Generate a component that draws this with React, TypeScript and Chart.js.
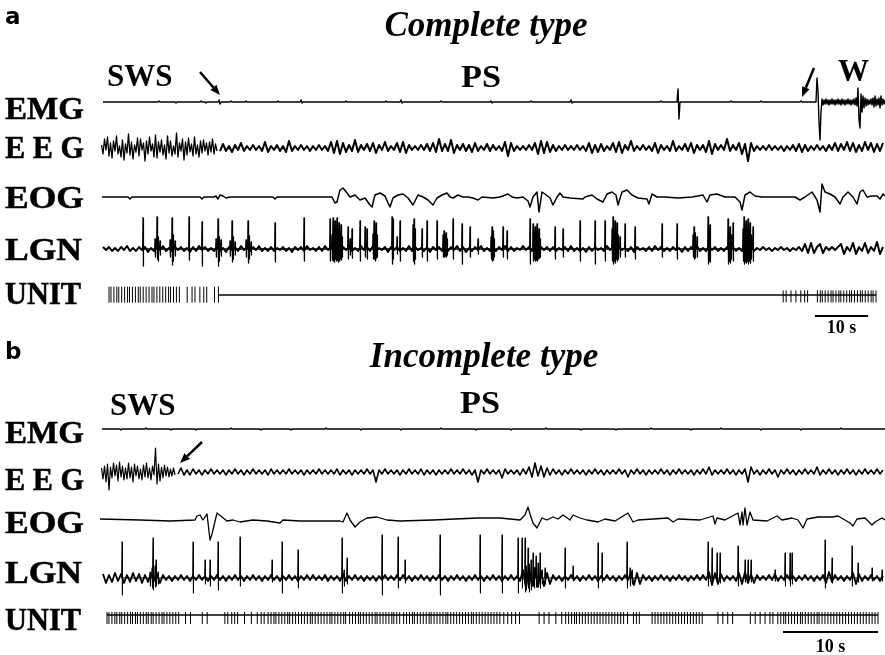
import React, { useEffect, useRef } from "react";
import { Chart, registerables } from "chart.js";

Chart.register(...registerables);

type P = { x: number; y: number };

// ---------- time base (x = sample units along the record) ----------
const X_MAX = 785;
const A_UNITS_PER_SEC = 5.3;
const B_UNITS_PER_SEC = 9.5;
const SCALEBAR_SEC = 10;
const SCALEBAR_A_START = 715;
const SCALEBAR_B_START = 683;

// ---------- panel a : complete type ----------
const EMG_A: [number, number][] = [
  [3, 0], [58, 0], [59, 1], [60, 0], [75, 0], [76, -1], [77, 0], [100, 0], [101, 1], [102, 0], [105, 0], [106, -1], [107, 0],
  [118, 0], [119, 2], [120, -2], [121, 0], [130, 0], [131, 1], [132, 0], [145, 0], [146, 1], [147, 0], [177, 0], [178, 1], [179, 0],
  [200, 0], [201, 2], [202, -1], [203, 0], [245, 0], [246, 1], [247, 0], [285, 0], [286, 1], [287, 0], [300, 0], [301, 2], [302, -1], [303, 0],
  [340, 0], [341, 1], [342, 0], [390, 0], [391, 1], [392, -1], [393, 0], [430, 0], [431, 1], [432, 0], [470, 0], [471, 2], [472, -1], [473, 0],
  [560, 0], [561, 1], [562, 0], [577, 0], [578, 13], [579, -17], [580, 0], [630, 0], [631, 1], [632, 0], [660, 0], [661, 1], [662, 0],
  [700, 0], [701, 1], [702, 0], [716, 0], [717, 24], [718, 10], [719, -20], [720, -38], [721, -10], [722, 3], [723, -3], [724, 2],
  [725, -2], [726, 3], [727, -2], [728, 2], [729, -3], [730, 2], [731, -2], [732, 3], [733, -2], [734, 2], [735, -3], [736, 2], [737, -2],
  [738, 3], [739, -2], [740, 2], [741, -3], [742, 3], [743, -2], [744, 2], [745, -3], [746, 2], [747, -2], [748, 3], [749, -2], [750, 2],
  [751, -3], [752, 2], [753, -2], [754, 3], [755, -3], [756, 4], [757, -4], [758, 14], [759, -18], [760, -26], [761, 8], [762, -10],
  [763, 6], [764, -6], [765, 4], [766, -4], [767, 3], [768, -3], [769, 2], [770, -2], [771, 3], [772, -3], [773, 4], [774, -5], [775, 6],
  [776, -4], [777, 3], [778, -3], [779, 4], [780, -6], [781, 6], [782, -3], [783, 3], [784, -2], [785, 2],
];

// EEG, slow-wave-sleep stretch sampled every 1.5 units from x = 1.5
const EEG_A_SWS: number[] = [
  3, -6, 9, -2, 11, -8, 5, -10, 7, -3, 12, -6, 2, -9, 8, -12, 4, -5, 14, -7,
  6, -11, 3, -4, 10, -8, 9, -2, 5, -13, 7, -6, 11, -3, 4, -9, 13, -10, 6, -4,
  8, -7, 3, -11, 12, -5, 7, -8, 2, -6, 15, -9, 5, -3, 9, -12, 6, -7, 10, -4,
  4, -8, 11, -6, 3, -9, 7, -5, 8, -3, 5, -7, 6, -4, 9, -6, 4, -3,
];
// EEG, paradoxical-sleep stretch sampled every 3 units from x = 120
const EEG_A_PS: number[] = [
  -3,
  4, -3, 2, -4, 3, -2, 5, -3, 2, -2,
  3, -2, 2, -3, 6, -4, 2, -2, 3, -3,
  2, -4, 7, -3, 2, -2, 3, -2, 2, -3,
  2, -2, 3, -2, 2, -3, 6, -5, 7, -6,
  5, -4, 3, -3, 8, -4, 3, -2, 4, -3,
  5, -5, 3, -2, 6, -3, 2, -2, 5, -4,
  6, -5, 3, -2, 2, -2, 3, -2, 4, -3,
  5, -4, 9, -3, 4, -3, 8, -5, 3, -2,
  4, -3, 3, -4, 5, -3, 2, -2, 4, -3,
  3, -2, 2, -3, 6, -8, 5, -3, 2, -2,
  2, -2, 3, -2, 5, -6, 7, -5, 6, -4,
  3, -3, 2, -2, 3, -2, 2, -2, 3, -2,
  2, -3, 5, -5, 3, -4, 4, -3, 2, -2,
  5, -4, 6, -5, 3, -2, 7, -3, 2, -2,
  3, -2, 2, -3, 5, -5, 3, -2, 2, -3,
  7, -3, 2, -2, 4, -3, 5, -5, 3, -2,
  3, -4, 7, -6, 4, -2, 3, -2, 9, -3,
  3, -2, 5, -6, 4, -13, 5, -3, 2, -2,
  2, -2, 3, -2, 2, -2, 2, -3, 2, -2,
  3, -3, 4, -4, 3, -3, 2, -2, 3, -2,
  2, -3, 3, -2, 5, -3, 4, -2, 6, -3,
  5, -4, 3, -3, 6, -2, 5, -4, 4, -3,
  5,
];

const EOG_A: [number, number][] = [
  [2, 0], [28, 0], [30, -2], [32, 0], [100, 0], [102, -2], [104, 0], [114, 0], [116, 1], [118, -2], [120, 2], [123, 1], [126, -1], [130, 0],
  [173, 0], [175, -2], [177, 0], [232, 0], [235, -6], [237, -5], [240, 7], [243, 9], [247, 4], [250, 0], [255, 2], [260, -3], [265, -1],
  [270, -8], [272, -10], [275, 2], [280, 4], [285, 1], [288, -6], [290, -10], [293, -1], [298, 2], [303, 3], [308, -1], [313, -8], [315, -4],
  [318, 2], [323, 0], [328, -3], [333, -8], [337, -1], [342, 2], [347, 4], [350, 0], [353, -1], [358, 2], [363, 0], [368, 0], [373, -1],
  [378, -3], [382, 0], [393, -1], [400, 0], [408, 3], [412, 0], [417, -1], [423, 0], [428, -4], [430, -10], [433, 0], [437, 5], [439, -15],
  [442, 5], [445, 3], [450, -1], [453, -8], [457, 0], [460, 4], [463, 0], [470, -1], [483, -2], [485, 0], [492, 2], [497, -2], [503, -5],
  [507, 3], [512, 5], [516, 2], [518, -8], [522, 5], [527, 7], [532, 2], [538, -1], [547, -2], [549, -7], [552, 3], [557, 0], [565, 0],
  [578, -1], [592, 0], [603, 2], [607, -5], [610, 2], [617, 3], [625, 0], [635, 0], [640, -5], [642, -13], [645, 2], [650, 5], [655, 1],
  [662, 0], [672, 0], [685, 0], [695, 0], [700, -3], [705, 0], [712, 5], [717, -3], [720, -15], [722, 13], [725, 5], [730, 3], [735, 0],
  [740, -7], [743, 0], [748, 5], [753, 0], [757, -7], [760, 5], [763, 7], [767, 0], [772, 1], [777, 1], [780, -2], [783, 3], [785, 1],
];

// LGN background activity, sampled every 3 units from x = 3
const LGN_A_NOISE: number[] = [
  2, -1, 2, -2, 1, -2, 2, -1, 3, -2,
  1, -2, 2, -1, 2, -3, 1, -2, 2, -1,
  3, -2, 1, -2, 2, -1, 2, -2, 1, -3,
  2, -2, 3, -1, 2, -2, 1, -2, 2, -2,
  1, -3, 2, -1, 2, -2, 3, -1, 2, -2,
  2, -1, 3, -2, 1, -2, 2, -2, 1, -1,
  2, -2, 1, -3, 2, -1, 2, -2, 3, -1,
  1, -2, 2, -2, 3, -1, 2, -3, 1, -2,
  2, -1, 2, -2, 1, -2, 3, -1, 2, -2,
  3, -2, 1, -1, 2, -3, 2, -1, 2, -2,
  1, -2, 3, -2, 2, -1, 1, -2, 2, -3,
  2, -1, 2, -2, 1, -2, 2, -1, 3, -2,
  2, -3, 1, -2, 2, -1, 3, -2, 1, -2,
  1, -2, 2, -1, 3, -2, 2, -2, 1, -1,
  3, -1, 2, -2, 1, -3, 2, -1, 2, -2,
  2, -2, 1, -1, 2, -2, 3, -2, 1, -2,
  1, -3, 2, -2, 2, -1, 1, -2, 3, -1,
  2, -2, 3, -1, 1, -2, 2, -3, 2, -1,
  1, -2, 2, -2, 3, -1, 2, -2, 1, -2,
  2, -1, 1, -3, 2, -2, 2, -1, 3, -2,
  1, -2, 3, -1, 2, -2, 1, -2, 2, -3,
  2, -2, 1, -2, 3, -1, 2, -2, 1, -1,
  2, -1, 1, -2, 1, -1, 2, -1, 1, -2,
  1, -1, 2, -2, 5, -4, 6, -4, 2, 5,
  -4, 2, -1, 2, -1, 2, 5, -5, 2, -2,
  6, -5, 2, -2, 6, -4, 2, -2, 7, -5,
  2,
];
// LGN (PGO) waves: [x, peak up, peak down]
const LGN_A_SPIKES: [number, number, number][] = [
  [43, 31, -17], [55, 10, -8], [57, 32, -10], [58, 12, -12], [60, 8, -6], [70, 9, -8], [72, 31, -16], [73, 14, -12], [75, 8, -7],
  [89, 32, -11], [102, 27, -17], [116, 10, -8], [118, 30, -17], [119, 12, -12], [121, 9, -7], [130, 8, -7], [132, 28, -13],
  [133, 12, -10], [135, 7, -6], [146, 9, -8], [148, 28, -14], [149, 13, -10], [151, 7, -6], [175, 26, -13], [204, 31, -12],
  [230, 30, -12], [232, 14, -11], [233, 31, -12], [234, 18, -13], [235, 28, -10], [236, 15, -12], [237, 31, -11], [238, 20, -13],
  [239, 26, -12], [240, 14, -10], [241, 24, -11], [242, 12, -8], [248, 22, -10], [250, 10, -6], [252, 20, -9], [260, 28, -12],
  [265, 22, -8], [267, 20, -10], [273, 15, -10], [274, 28, -10], [275, 18, -12], [276, 26, -9], [277, 14, -8], [292, 32, -15],
  [293, 30, -10], [297, 12, -5], [300, 28, -12], [313, 24, -12], [314, 30, -15], [315, 20, -10], [322, 20, -8], [327, 28, -12],
  [337, 28, -10], [343, 14, -8], [344, 18, -8], [345, 12, -7], [346, 16, -8], [347, 10, -6], [353, 30, -10], [362, 25, -15],
  [370, 22, -8], [378, 10, -5], [391, 12, -10], [392, 22, -12], [393, 18, -11], [394, 10, -8], [403, 22, -8], [407, 18, -10],
  [430, 30, -15], [433, 25, -12], [434, 14, -10], [435, 22, -12], [436, 16, -11], [437, 25, -12], [438, 12, -10], [439, 20, -9],
  [440, 10, -8], [455, 22, -10], [463, 20, -8], [480, 28, -12], [495, 28, -15], [505, 28, -12], [512, 20, -12], [513, 32, -15],
  [514, 18, -12], [515, 28, -14], [516, 16, -10], [517, 26, -12], [518, 14, -10], [520, 12, -8], [525, 25, -8], [535, 22, -10],
  [562, 25, -8], [577, 25, -10], [593, 14, -8], [594, 22, -10], [595, 16, -9], [597, 12, -8], [608, 32, -15], [609, 18, -12],
  [610, 24, -13], [628, 30, -15], [629, 16, -12], [630, 22, -14], [631, 14, -10], [633, 26, -12], [643, 20, -12], [644, 32, -15],
  [645, 18, -13], [646, 28, -14], [647, 20, -12], [648, 30, -15], [649, 16, -12], [650, 26, -14], [651, 14, -10], [653, 22, -12],
];

const UNIT_A_EARLY: number[] = [
  0, 2, 5, 8, 10, 13, 16, 19, 21, 24, 27, 30, 32, 35, 38, 41, 44, 46, 49, 52, 55, 58, 61, 63, 66, 69, 72,
  80, 85, 88, 93, 97, 100, 108, 112,
];
const UNIT_A_LATE: number[] = [
  690, 693, 698, 703, 708, 712, 715, 725, 728, 730, 733, 736, 739, 741, 744, 747, 749, 752, 755, 758, 760,
  763, 766, 769, 771, 774, 777, 780, 782, 785,
];
const UNIT_A_LINE: [number, number][] = [[112, 0], [785, 0]];

// ---------- panel b : incomplete type ----------
const EMG_B: [number, number][] = [
  [2, 0], [20, 0], [21, -1], [22, 0], [45, 0], [46, 1], [47, 0], [70, 0], [71, -1], [72, 0], [95, 0], [96, -1], [97, 0],
  [130, 0], [131, 1], [132, 0], [160, 0], [161, -1], [162, 0], [190, 0], [191, -1], [192, 0], [225, 0], [226, 1], [227, 0],
  [260, 0], [261, -1], [262, 0], [300, 0], [301, -1], [302, 0], [340, 0], [341, 1], [342, 0], [375, 0], [376, -1], [377, 0],
  [410, 0], [411, -1], [412, 0], [445, 0], [446, 1], [447, 0], [480, 0], [481, -1], [482, 0], [515, 0], [516, -1], [517, 0],
  [550, 0], [551, 1], [552, 0], [590, 0], [591, -1], [592, 0], [620, 0], [621, 1], [622, 0], [660, 0], [661, -1], [662, 0],
  [700, 0], [701, -1], [702, 0], [740, 0], [741, 1], [742, 0], [785, 0],
];

const EEG_B_SWS: number[] = [
  4, -7, 6, -10, 8, -18, 5, -6, 9, -4,
  7, -9, 10, -5, 6, -8, 4, -7, 9, -6,
  5, -10, 8, -4, 6, -7, 3, -8, 7, -5,
  9, -6, 4, -8, 6, -3, 24, -12, 8, -9,
  5, -6, 7, -4, 5, -5, 3, -4, 4, -3,
];
const EEG_B_PS: number[] = [
  -2, 4, -3, 2, -3,
  3, -2, 2, -3, 2, -2, 3, -2, 2, -2,
  2, -3, 2, -2, 3, -2, 2, -3, 2, -2,
  3, -2, 2, -2, 2, -3, 3, -2, 2, -2,
  2, -2, 3, -2, 2, -2, 2, -3, 2, -2,
  2, -2, 3, -2, 2, -2, 2, -2, 3, -3,
  2, -2, 2, -3, 2, -2, 2, -2, 3, -2,
  2, -10, 2, -2, 3, -2, 2, -2, 2, -3,
  2, -2, 3, -2, 2, -2, 3, -3, 2, -2,
  2, -3, 2, -2, 2, -2, 3, -2, 2, -2,
  3, -2, 2, -3, 2, -10, 2, -2, 3, -2,
  2, -2, 2, -6, 3, -2, 2, -2, 2, -3,
  3, -2, 5, -5, 9, -4, 6, -5, 4, -3,
  3, -2, 2, -3, 2, -2, 3, -2, 2, -2,
  2, -3, 2, -2, 3, -2, 2, -3, 2, -2,
  2, -2, 3, -2, 2, -5, 2, -2, 3, -2,
  2, -3, 2, -2, 2, -2, 3, -2, 2, -3,
  2, -2, 3, -2, 2, -2, 2, -3, 2, -2,
  3, -2, 5, -3, 2, -2, 2, -2, 3, -2,
  2, -3, 2, -2, 3, -10, 5, -2, 2, -3,
  2, -2, 3, -2, 2, -5, 2, -2, 3, -2,
  2, -3, 2, -2, 3, -2, 2, -2, 5, -3,
  2, -2, 3, -2, 2, -3, 2, -2, 3, -2,
  2, -3, 2, -2, 3, -2, 2, -2, 3, -2,
  2,
];

const EOG_B: [number, number][] = [
  [0, 1], [40, 0], [70, -1], [95, 0], [97, 4], [100, 5], [103, 0], [107, 6], [110, -20], [112, -14], [117, 7], [122, 3], [127, -1],
  [133, 0], [140, -2], [153, 0], [167, -1], [180, -3], [183, 0], [200, -1], [240, -1], [243, -2], [247, 7], [250, 0], [255, -7],
  [260, -2], [267, 2], [277, 3], [287, 0], [300, -1], [333, 0], [378, 2], [400, 2], [420, 0], [425, 5], [428, 13], [430, 6], [433, -3],
  [437, -8], [442, 2], [447, 0], [453, 3], [458, 1], [463, 5], [470, 0], [473, 5], [480, 2], [487, 0], [493, -1], [498, -2], [505, 1],
  [515, -1], [528, 7], [533, -2], [538, 0], [568, 2], [573, -2], [578, 1], [600, 0], [613, 4], [615, -4], [617, 2], [625, 0], [638, 7],
  [640, -5], [642, 8], [643, -5], [645, 12], [647, -5], [650, 8], [653, 0], [667, -1], [677, 4], [682, 0], [692, 2], [698, 0], [703, -8],
  [707, 1], [718, 3], [732, 3], [738, 4], [745, 0], [750, -3], [753, -6], [757, 1], [765, 2], [772, -5], [775, -2], [782, 2], [785, 0],
];

const LGN_B_NOISE: number[] = [
  4, -5, 3, -4, 5, -3, 4, -5, 3, -4,
  5, -3, 4, -5, 3, -4, 5, -3, 4, -5,
  3, -2, 2, -3, 2, -2, 3, -2, 2, -3,
  2, -2, 3, -2, 2, -3, 2, -2, 3, -2,
  2, -3, 2, -2, 3, -2, 2, -3, 2, -2,
  3, -2, 2, -3, 2, -2, 3, -2, 2, -3,
  2, -2, 3, -2, 2, -3, 2, -2, 3, -2,
  3, -2, 2, -2, 3, -3, 2, -2, 2, -3,
  4, -3, 2, -2, 3, -2, 2, -3, 2, -2,
  2, -3, 2, -2, 3, -2, 2, -2, 3, -2,
  3, -2, 2, -3, 2, -2, 3, -2, 2, -3,
  2, -2, 3, -2, 2, -3, 2, -2, 3, -2,
  2, -3, 2, -2, 3, -2, 2, -3, 2, -2,
  3, -2, 2, -3, 2, -2, 3, -2, 2, -3,
  8, -10, 9, -8, 10, -9, 7, -8, 5, -6,
  3, -2, 2, -3, 2, -2, 3, -2, 2, -3,
  2, -2, 3, -2, 2, -3, 2, -2, 3, -2,
  2, -3, 2, -2, 3, -2, 6, -7, 5, -6,
  3, -2, 2, -3, 2, -2, 3, -2, 2, -3,
  2, -2, 3, -2, 2, -3, 2, -2, 3, -2,
  3, -2, 6, -7, 5, -6, 4, -3, 2, -2,
  2, -3, 5, -6, 6, -5, 4, -5, 3, -2,
  2, -2, 3, -2, 4, -3, 2, -2, 3, -2,
  2, -3, 2, -2, 3, -2, 2, -3, 2, -2,
  3, -5, 6, -4, 3, -2, 2, -3, 2, -2,
  5, -6, 4, -3, 2, -2, 3, -2, 2, -3,
  2,
];
const LGN_B_SPIKES: [number, number, number][] = [
  [22, 36, -17], [50, 6, -8], [52, 10, -10], [53, 40, -12], [55, 12, -9], [56, 18, -8], [58, 6, -6], [93, 36, -15], [105, 18, -6],
  [110, 18, -8], [118, 36, -12], [140, 41, -8], [172, 18, -4], [182, 36, -15], [198, 28, -10], [242, 40, -15], [244, 8, -8],
  [247, 20, -6], [282, 43, -17], [298, 41, -10], [305, 18, -5], [340, 43, -17], [380, 43, -15], [402, 43, -15], [418, 40, -15],
  [422, 40, -10], [425, 40, -14], [426, 12, -12], [428, 30, -10], [429, 14, -14], [431, 18, -12], [433, 25, -8], [434, 10, -10],
  [436, 22, -9], [438, 15, -8], [440, 25, -10], [442, 8, -6], [445, 10, -6], [465, 30, -10], [473, 12, -3], [498, 35, -10],
  [502, 25, -4], [527, 36, -10], [530, 10, -8], [532, 8, -6], [608, 36, -8], [612, 30, -6], [617, 25, -5], [620, 25, -5],
  [638, 32, -8], [645, 18, -4], [648, 18, -4], [651, 18, -4], [675, 8, -3], [685, 25, -8], [690, 25, -8], [692, 25, -6],
  [725, 38, -10], [732, 20, -5], [752, 32, -8], [758, 15, -4], [772, 10, -3], [782, 8, -3],
];

const UNIT_B: number[] = [
  0, 2, 5, 8, 10, 13, 15, 18, 21, 24, 26, 29, 31, 34, 37, 40, 42, 45, 47, 50, 53, 56, 58, 61, 64, 67, 70,
  73, 80, 85, 97, 102,
  120, 123, 127, 130, 133,
  140, 147, 153, 157, 160, 164,
  167, 170, 172, 175, 178, 181, 184, 186, 189, 192, 195, 198,
  201, 204, 207, 209, 212, 215, 218, 221, 224, 227, 229, 232, 235, 238, 241, 243,
  247, 250, 253, 256, 258, 261, 264, 267, 270, 273, 275, 278, 281, 284, 287, 290, 292, 295, 298,
  302, 305, 308, 311, 313, 316, 319, 322, 325, 328, 330, 333, 336, 339, 342, 345, 347, 350, 353, 356, 359,
  362, 365, 368, 371, 373, 376, 379, 382, 385, 388, 391, 394, 397, 400, 404, 408, 412, 416, 420,
  440, 445, 450, 457, 463,
  467, 470, 473, 476, 478, 481, 484, 487, 490, 493, 496, 499, 502, 505, 508, 511, 514, 517, 520, 523, 526, 530,
  536, 539, 542, 555, 558, 561, 564, 567, 570, 573, 576, 579, 582, 585, 588, 591, 594, 597, 600, 603, 606,
  622, 627, 632, 637,
  655, 660, 665, 670, 675, 678,
  683, 686, 689, 691, 694, 697, 700, 703, 706, 708, 711, 714, 717, 720, 723, 725, 728, 731, 734, 737, 740,
  743, 746, 749, 752, 755, 758, 761, 764, 767, 770, 773, 776, 779, 782, 785,
];
const UNIT_B_LINE: [number, number][] = [[0, 0], [785, 0]];

// ---------- helpers ----------
const TRACE_LEFT = 100;
const SERIF = '"Liberation Serif", "Times New Roman", Times, serif';
const SANS = '"DejaVu Sans", Verdana, sans-serif';

const pairs = (arr: [number, number][]): P[] => arr.map(([x, y]) => ({ x, y }));
const dense = (vals: number[], start: number, step: number): P[] => vals.map((v, i) => ({ x: start + i * step, y: v }));
const spikes = (arr: [number, number, number][]): P[] => {
  const out: P[] = [];
  arr.forEach(([x, up, down]) => {
    out.push({ x: x - 0.3, y: 0 }, { x, y: up }, { x: x + 0.3, y: down }, { x: x + 0.6, y: 0 });
  });
  return out;
};

const lineDs = (data: P[], w = 1.3) => ({
  type: "line",
  data,
  borderColor: "#000",
  borderWidth: w,
  pointRadius: 0,
  tension: 0,
  borderJoinStyle: "round",
  fill: false,
  clip: false,
});

const tickDs = (times: number[], yc: number, r: number) => ({
  type: "scatter",
  data: times.map((t) => ({ x: t, y: yc })),
  pointStyle: "line",
  pointRadius: r,
  pointRotation: 90,
  pointBorderColor: "#000",
  pointBorderWidth: 1,
  borderColor: "#000",
  showLine: false,
  clip: false,
});

function TraceChart({ cy, half, datasets }: { cy: number; half: number; datasets: any[] }) {
  const ref = useRef<HTMLCanvasElement | null>(null);
  useEffect(() => {
    if (!ref.current) return;
    const chart = new Chart(ref.current, {
      type: "line",
      data: { datasets: datasets as any },
      options: {
        responsive: false,
        animation: false,
        events: [],
        layout: { padding: 0 },
        plugins: { legend: { display: false }, tooltip: { enabled: false } },
        scales: {
          x: { type: "linear", min: 0, max: X_MAX, display: false },
          y: { type: "linear", min: -half, max: half, display: false },
        },
      } as any,
    });
    return () => chart.destroy();
  }, []);
  return (
    <canvas
      ref={ref}
      width={X_MAX}
      height={half * 2}
      style={{ position: "absolute", left: TRACE_LEFT, top: cy - half, width: X_MAX, height: half * 2 }}
    />
  );
}

function Arrow({ x1, y1, x2, y2 }: { x1: number; y1: number; x2: number; y2: number }) {
  const ang = Math.atan2(y2 - y1, x2 - x1);
  const L = 10;
  const W = 4;
  const bx = x2 - L * Math.cos(ang);
  const by = y2 - L * Math.sin(ang);
  const px = -Math.sin(ang) * W;
  const py = Math.cos(ang) * W;
  return (
    <g>
      <line x1={x1} y1={y1} x2={bx} y2={by} stroke="#000" strokeWidth={2.5} />
      <polygon points={`${x2},${y2} ${bx + px},${by + py} ${bx - px},${by - py}`} fill="#000" />
    </g>
  );
}

const LABELS = ["EMG", "E E G", "EOG", "LGN", "UNIT"];
const LABEL_W = [79, 79, 79, 77, 76];
const LABEL_BASE_A = [119, 158, 208, 260, 304];
const LABEL_BASE_B = [443, 490, 533, 583, 630];

const serifBold = { fontFamily: SERIF, fontWeight: "bold" as const };

export default function App() {
  return (
    <div
      style={{
        position: "absolute",
        left: 0,
        top: 0,
        width: 885,
        height: 655,
        background: "#fff",
        overflow: "hidden",
      }}
    >
      {/* panel a traces */}
      <TraceChart cy={102} half={40} datasets={[lineDs(pairs(EMG_A), 1.4)]} />
      <TraceChart
        cy={148}
        half={20}
        datasets={[lineDs(dense(EEG_A_SWS, 1.5, 1.5), 1.3), lineDs(dense(EEG_A_PS, 120, 3), 2)]}
      />
      <TraceChart cy={197} half={20} datasets={[lineDs(pairs(EOG_A), 1.5)]} />
      <TraceChart
        cy={249}
        half={35}
        datasets={[lineDs(dense(LGN_A_NOISE, 3, 3), 2), lineDs(spikes(LGN_A_SPIKES), 1.3)]}
      />
      <TraceChart
        cy={295}
        half={14}
        datasets={[lineDs(pairs(UNIT_A_LINE), 1.6), tickDs(UNIT_A_EARLY, 1, 8), tickDs(UNIT_A_LATE, -4, 6)]}
      />

      {/* panel b traces */}
      <TraceChart cy={429} half={10} datasets={[lineDs(pairs(EMG_B), 1.4)]} />
      <TraceChart
        cy={472}
        half={25}
        datasets={[lineDs(dense(EEG_B_SWS, 1.5, 1.5), 1.2), lineDs(dense(EEG_B_PS, 78, 3), 1.6)]}
      />
      <TraceChart cy={520} half={25} datasets={[lineDs(pairs(EOG_B), 1.3)]} />
      <TraceChart
        cy={578}
        half={45}
        datasets={[lineDs(dense(LGN_B_NOISE, 3, 3), 1.8), lineDs(spikes(LGN_B_SPIKES), 1.1)]}
      />
      <TraceChart cy={615} half={14} datasets={[lineDs(pairs(UNIT_B_LINE), 1.4), tickDs(UNIT_B, -6, 6)]} />

      <svg width={885} height={655} style={{ position: "absolute", left: 0, top: 0, pointerEvents: "none" }}>
        {/* panel a text */}
        <text x={5} y={24} fontFamily={SANS} fontWeight="bold" fontSize={23}>a</text>
        <text x={486} y={36} {...serifBold} fontStyle="italic" fontSize={35} textAnchor="middle">Complete type</text>
        <text x={107} y={86} {...serifBold} fontSize={31}>SWS</text>
        <text x={461} y={87} {...serifBold} fontSize={31} textLength={40} lengthAdjust="spacingAndGlyphs">PS</text>
        <text x={838} y={81} {...serifBold} fontSize={31}>W</text>
        {LABELS.map((t, i) => (
          <text
            key={"la" + i}
            x={5}
            y={LABEL_BASE_A[i]}
            {...serifBold}
            fontSize={31}
            textLength={LABEL_W[i]}
            lengthAdjust="spacingAndGlyphs"
            stroke="#000"
            strokeWidth={0.5}
          >
            {t}
          </text>
        ))}
        <line
          x1={TRACE_LEFT + SCALEBAR_A_START}
          x2={TRACE_LEFT + SCALEBAR_A_START + SCALEBAR_SEC * A_UNITS_PER_SEC}
          y1={316}
          y2={316}
          stroke="#000"
          strokeWidth={2}
        />
        <text
          x={TRACE_LEFT + SCALEBAR_A_START + (SCALEBAR_SEC * A_UNITS_PER_SEC) / 2}
          y={333}
          {...serifBold}
          fontSize={18}
          textAnchor="middle"
        >
          10 s
        </text>

        {/* panel b text */}
        <text x={5} y={359} fontFamily={SANS} fontWeight="bold" fontSize={23}>b</text>
        <text x={484} y={367} {...serifBold} fontStyle="italic" fontSize={35} textAnchor="middle">Incomplete type</text>
        <text x={110} y={415} {...serifBold} fontSize={31}>SWS</text>
        <text x={460} y={413} {...serifBold} fontSize={31} textLength={40} lengthAdjust="spacingAndGlyphs">PS</text>
        {LABELS.map((t, i) => (
          <text
            key={"lb" + i}
            x={5}
            y={LABEL_BASE_B[i]}
            {...serifBold}
            fontSize={31}
            textLength={LABEL_W[i]}
            lengthAdjust="spacingAndGlyphs"
            stroke="#000"
            strokeWidth={0.5}
          >
            {t}
          </text>
        ))}
        <line
          x1={TRACE_LEFT + SCALEBAR_B_START}
          x2={TRACE_LEFT + SCALEBAR_B_START + SCALEBAR_SEC * B_UNITS_PER_SEC}
          y1={632}
          y2={632}
          stroke="#000"
          strokeWidth={2}
        />
        <text
          x={TRACE_LEFT + SCALEBAR_B_START + (SCALEBAR_SEC * B_UNITS_PER_SEC) / 2}
          y={652}
          {...serifBold}
          fontSize={18}
          textAnchor="middle"
        >
          10 s
        </text>

        <Arrow x1={200} y1={72} x2={220} y2={95} />
        <Arrow x1={814} y1={68} x2={802} y2={97} />
        <Arrow x1={202} y1={442} x2={180} y2={463} />
      </svg>
    </div>
  );
}
